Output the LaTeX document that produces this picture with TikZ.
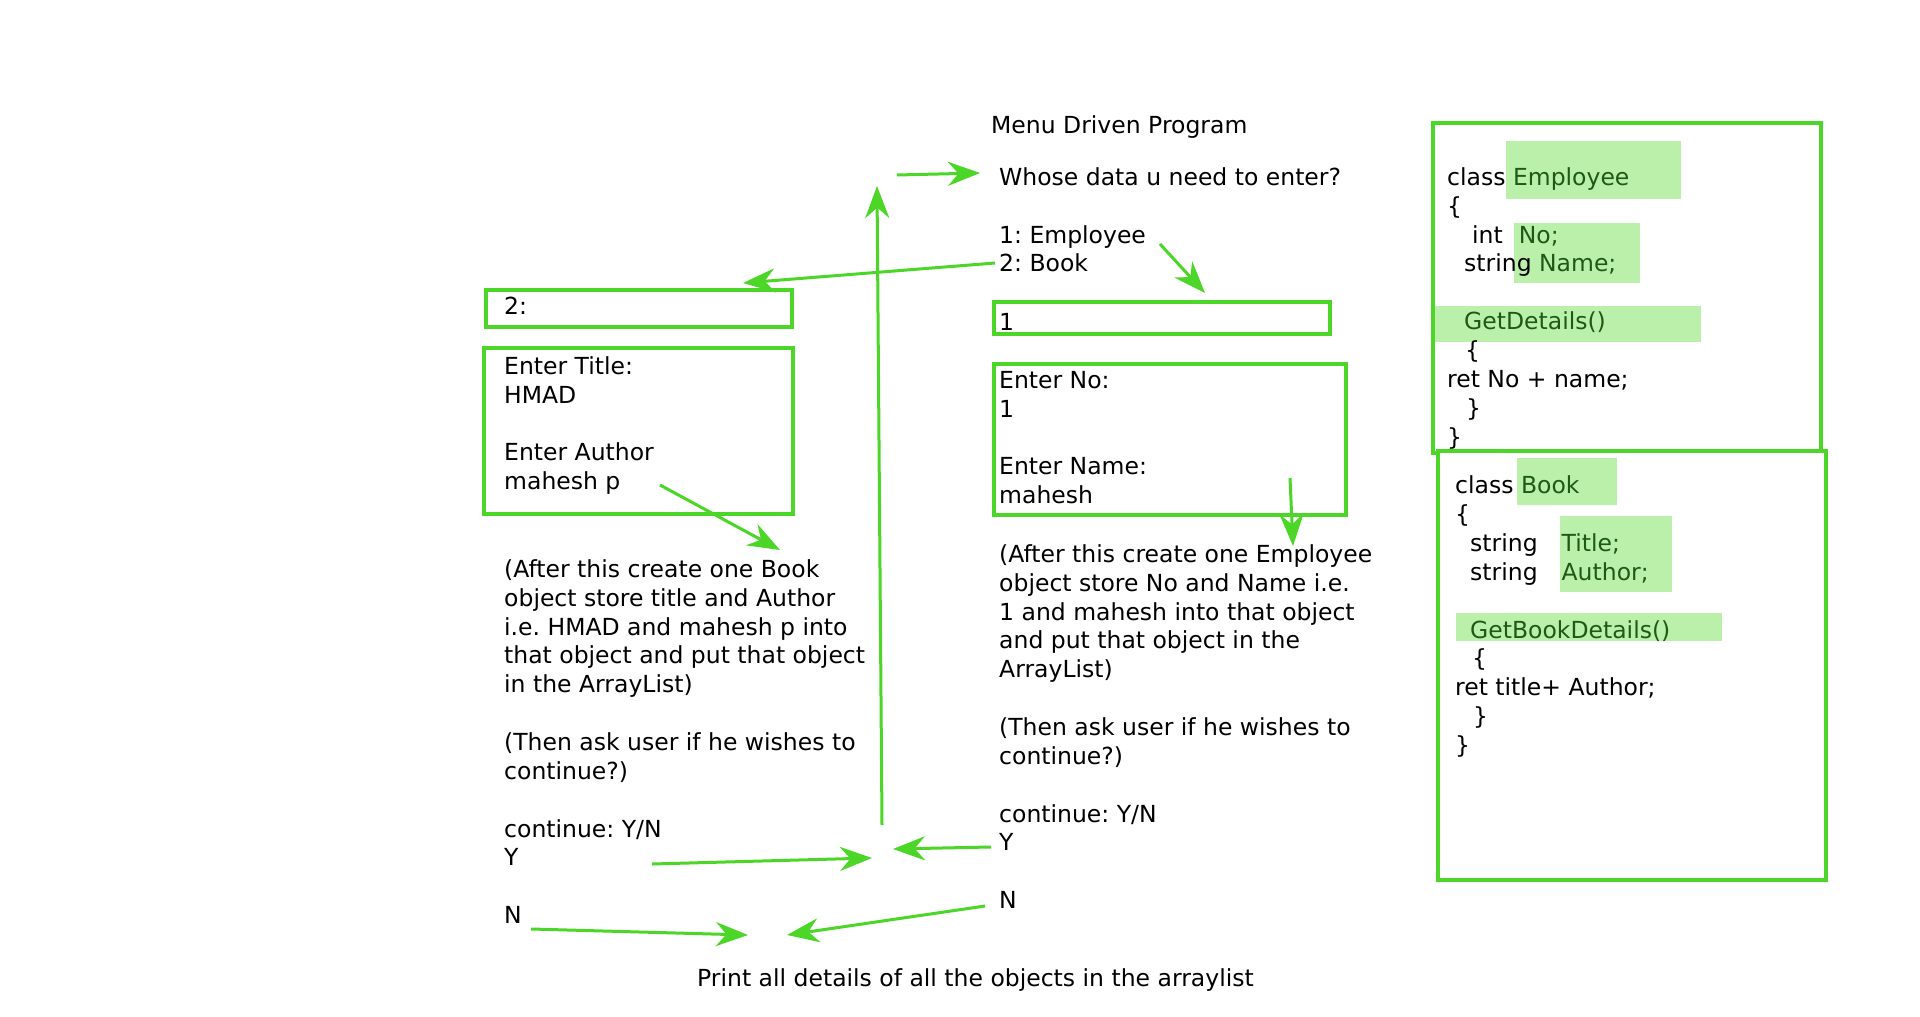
\documentclass[tikz,border=0pt]{standalone}
\usepackage{fontspec}
\setmainfont{DejaVu Sans}
\usepackage{xcolor}
\usepackage{tikz}
\usetikzlibrary{positioning}
\usetikzlibrary{arrows.meta}
\frenchspacing

\definecolor{linegreen}{RGB}{76,214,40}
\definecolor{markgreen}{RGB}{187,240,170}
\definecolor{codegreen}{RGB}{30,90,20}

\tikzset{
  greenbox/.style={draw=linegreen,line width=3.5pt},
  markbox/.style={fill=markgreen},
  flow/.style={draw=linegreen,line width=3pt,-{Stealth[length=32pt,width=24pt]}},
  txt/.style={anchor=north west,inner sep=0pt,align=left,font=\fontsize{23.5}{28.85}\selectfont,execute at begin node=\strut},
}

\begin{document}
\begin{tikzpicture}[x=1pt,y=-1pt]

        \fill[white] (0,0) rectangle (1920,1017);
        \useasboundingbox (0,0) rectangle (1920,1017);

        \node[txt] (title) at (991,113) {Menu Driven Program};
        \node[txt] (menu) at (999,167.3) {Whose data u need to enter?\\[28.85pt]1: Employee\\2: Book};

        \draw[greenbox] (486,290) rectangle (792,327);
        \node[txt] (bookpick) at (504,293.8) {2:};
        \draw[greenbox] (994,302) rectangle (1330,334);
        \node[txt] (emppick) at (999,309.8) {1};

        \draw[greenbox] (484,348) rectangle (793,514);
        \node[txt] (bookinput) at (504,356.3) {Enter Title:\\HMAD\\[28.85pt]Enter Author\\mahesh p};
        \draw[greenbox] (994,364) rectangle (1346,515);
        \node[txt] (empinput) at (999,371) {Enter No:\\1\\[28.85pt]Enter Name:\\mahesh};

        \node[txt] (booknote) at (504,559.3) {(After this create one Book\\object store title and Author\\i.e. HMAD and mahesh p into\\that object and put that object\\in the ArrayList)\\[28.85pt](Then ask user if he wishes to\\continue?)\\[28.85pt]continue: Y/N\\Y\\[28.85pt]N};
        \node[txt] (empnote) at (999,544.3) {(After this create one Employee\\object store No and Name i.e.\\1 and mahesh into that object\\and put that object in the\\ArrayList)\\[28.85pt](Then ask user if he wishes to\\continue?)\\[28.85pt]continue: Y/N\\Y\\[28.85pt]N};

        \node[txt] (printall) at (697,965.8) {Print all details of all the objects in the arraylist};

        \fill[markbox] (1506,141) rectangle (1681,199);
        \fill[markbox] (1514,223) rectangle (1640,283);
        \fill[markbox] (1435,306) rectangle (1701,342);
        \node[txt] (empclass) at (1447,167.3) {class \textcolor{codegreen}{Employee}\\\{\\\hspace*{25pt}int\hspace*{16pt}\textcolor{codegreen}{No;}\\\hspace*{17pt}string \textcolor{codegreen}{Name;}\\[28.85pt]\hspace*{17pt}\textcolor{codegreen}{GetDetails()}\\\hspace*{18pt}\{\\ret No + name;\\\hspace*{19pt}\}\\\}};
        \draw[greenbox] (1433,123) rectangle (1821,453);

        \draw[greenbox,fill=white] (1438,451) rectangle (1826,880);
        \fill[markbox] (1517,458) rectangle (1617,505);
        \fill[markbox] (1560,516) rectangle (1672,592);
        \fill[markbox] (1456,613) rectangle (1722,641);
        \node[txt] (bookclass) at (1455,475.8) {class \textcolor{codegreen}{Book}\\\{\\\hspace*{15pt}string\hspace*{24pt}\textcolor{codegreen}{Title;}\\\hspace*{15pt}string\hspace*{24pt}\textcolor{codegreen}{Author;}\\[28.85pt]\hspace*{15pt}\textcolor{codegreen}{GetBookDetails()}\\\hspace*{17pt}\{\\ret title+ Author;\\\hspace*{18pt}\}\\\}};

        \coordinate (loopfoot) at (882,825);
        \coordinate (looptop) at (877,186);
        \coordinate (askfrom) at (897,175);
        \coordinate (askto) at (980,173);
        \coordinate (bookfrom) at (995,263);
        \coordinate (bookto) at (743,283);
        \coordinate (empfrom) at (1160,244);
        \coordinate (empto) at (1205,293);
        \coordinate (authorfrom) at (660,485);
        \coordinate (authorto) at (780,550);
        \coordinate (namefrom) at (1290,478);
        \coordinate (nameto) at (1293,546);
        \coordinate (bookyes) at (652,864);
        \coordinate (bookyesto) at (872,858);
        \coordinate (empyes) at (991,847);
        \coordinate (empyesto) at (893,849);
        \coordinate (bookno) at (531,929);
        \coordinate (booknoto) at (748,935);
        \coordinate (empno) at (985,906);
        \coordinate (empnoto) at (787,935);

        \draw[flow] (loopfoot) -- (looptop);
        \draw[flow] (askfrom) -- (askto);
        \draw[flow] (bookfrom) -- (bookto);
        \draw[flow] (empfrom) -- (empto);
        \draw[flow] (authorfrom) -- (authorto);
        \draw[flow] (namefrom) -- (nameto);
        \draw[flow] (bookyes) -- (bookyesto); \draw[flow] (empyes) -- (empyesto);
        \draw[flow] (bookno) -- (booknoto); \draw[flow] (empno) -- (empnoto);

\end{tikzpicture}
\end{document}
